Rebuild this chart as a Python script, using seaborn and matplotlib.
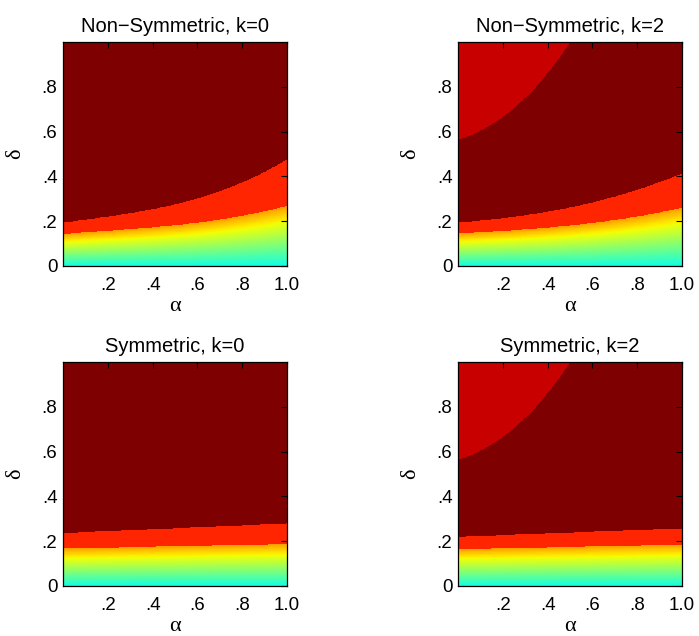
import numpy as np
import matplotlib
matplotlib.use("Agg")
import matplotlib.pyplot as plt
import seaborn as sns

# ---- data ----
# delta at which each colour region starts, sampled along alpha
alpha_pts = [0.0, 0.2, 0.4, 0.6, 0.8, 1.0]
nonsym_k0_upper = [0.193, 0.220, 0.253, 0.302, 0.372, 0.476]
nonsym_k0_lower = [0.143, 0.156, 0.173, 0.193, 0.223, 0.268]
nonsym_k2_upper = [0.194, 0.212, 0.242, 0.285, 0.338, 0.413]
nonsym_k2_lower = [0.145, 0.156, 0.171, 0.192, 0.220, 0.260]

alpha_ends = [0.0, 1.0]
sym_k0_upper = [0.236, 0.279]
sym_k0_lower = [0.167, 0.187]
sym_k2_upper = [0.219, 0.257]
sym_k2_lower = [0.164, 0.184]

# top-left region of the k=2 panels
corner_alpha = [0.0, 0.135, 0.284, 0.374, 0.433, 0.5]
corner_delta = [0.5625, 0.625, 0.734, 0.83, 0.905, 1.0]

# levels on the jet scale
level_bottom = 0.37
level_grad_top = 0.74
level_band = 0.87
level_corner = 0.934
level_top = 1.0

titles = ["Non\u2212Symmetric, k=0", "Non\u2212Symmetric, k=2",
          "Symmetric, k=0", "Symmetric, k=2"]
panels = [
    (alpha_pts, nonsym_k0_upper, nonsym_k0_lower, False),
    (alpha_pts, nonsym_k2_upper, nonsym_k2_lower, True),
    (alpha_ends, sym_k0_upper, sym_k0_lower, False),
    (alpha_ends, sym_k2_upper, sym_k2_lower, True),
]

sns.set_style("white")
plt.rcParams["font.family"] = ["Liberation Sans", "DejaVu Sans"]
plt.rcParams["text.color"] = "black"
plt.rcParams["axes.labelcolor"] = "black"
jet = matplotlib.colormaps["jet"]

fig = plt.figure(figsize=(6.99, 6.36), dpi=100)
W, H = 699, 636
boxes = [(63, 42), (458, 42), (63, 362), (458, 362)]

n = 600
a = np.linspace(0, 1, n)
d = np.linspace(0, 1, n)
D = np.repeat(d[:, None], n, axis=1)


def smooth(xs, ys, x):
    # smooth curve through the read points
    deg = min(3, len(xs) - 1)
    return np.polyval(np.polyfit(xs, ys, deg), x)


for (x0, y0), title, (apts, up, lo, corner) in zip(boxes, titles, panels):
    ax = fig.add_axes([x0 / W, 1 - (y0 + 224) / H, 224 / W, 224 / H])
    upper = smooth(apts, up, a)[None, :]
    lower = smooth(apts, lo, a)[None, :]
    Z = np.full(D.shape, level_top)
    Z = np.where(D < upper, level_band, Z)
    Z = np.where(D < lower, level_bottom + (level_grad_top - level_bottom) * D / lower, Z)
    if corner:
        cb = np.where(a <= corner_alpha[-1], smooth(corner_alpha, corner_delta, a), 9.0)[None, :]
        Z = np.where(D > cb, level_corner, Z)
    ax.imshow(Z, origin="lower", extent=[0, 1, 0, 1], cmap=jet, vmin=0, vmax=1,
              aspect="auto", interpolation="nearest")
    ax.set_xlim(0, 1)
    ax.set_ylim(0, 1)
    ax.set_xticks([0.2, 0.4, 0.6, 0.8, 1.0])
    ax.set_xticklabels([".2", ".4", ".6", ".8", "1.0"])
    ax.set_yticks([0, 0.2, 0.4, 0.6, 0.8])
    ax.set_yticklabels(["0", ".2", ".4", ".6", ".8"])
    ax.tick_params(direction="in", top=True, right=True, length=4, width=0.8,
                   labelsize=13.5, colors="black")
    ax.tick_params(axis="x", pad=8)
    ax.tick_params(axis="y", pad=4)
    for s in ax.spines.values():
        s.set_visible(True)
        s.set_color("black")
        s.set_linewidth(0.9)
    ax.set_title(title, fontsize=14.5, pad=7)
    ax.set_xlabel("\u03b1", fontsize=16, family=["Liberation Serif", "DejaVu Serif"], labelpad=2)
    ax.set_ylabel("\u03b4", fontsize=16, family=["Liberation Serif", "DejaVu Serif"], labelpad=12)

fig.savefig("out.png", dpi=100)
